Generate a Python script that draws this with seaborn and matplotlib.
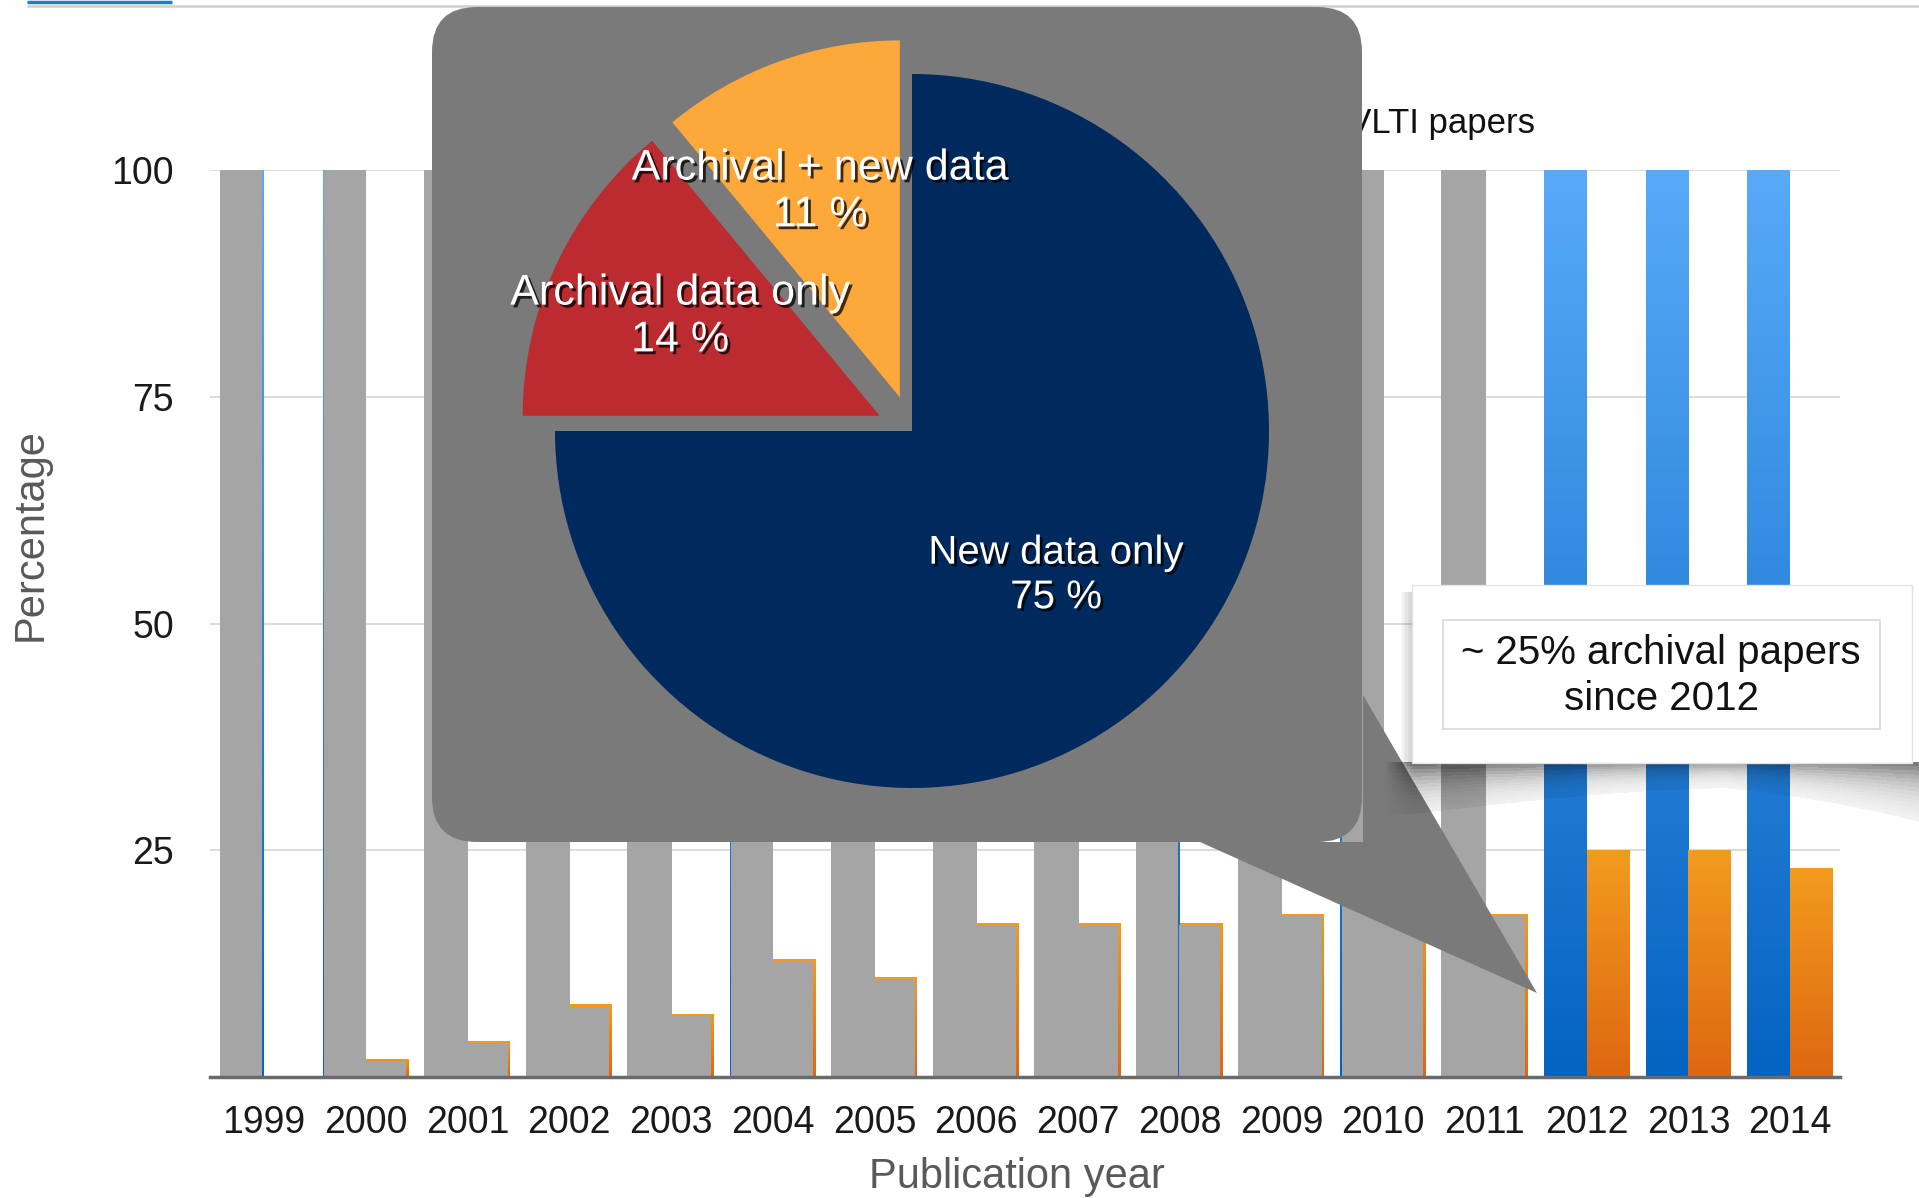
import numpy as np
import pandas as pd
import seaborn as sns
import matplotlib.pyplot as plt
import matplotlib.patheffects as pe
from matplotlib.patches import Rectangle, FancyBboxPatch, Polygon
from matplotlib.colors import LinearSegmentedColormap

# data
years = [str(y) for y in range(1999, 2015)]
all_papers = [100] * 16
archival = [0, 2, 4, 8, 7, 13, 11, 17, 17, 17, 18, 19, 18, 25, 25, 23]
first_shown = 2012          # earlier years are greyed out

pie_names = ['New data only', 'Archival data only', 'Archival + new data']
pie_values = [75, 14, 11]

note = '~ 25% archival papers\nsince 2012'
title = 'Archival data in VLTI papers'

W, H = 1919, 1198
sns.set_theme(style='white')
plt.rcParams['font.family'] = ['Liberation Sans', 'DejaVu Sans']

fig = plt.figure(figsize=(W / 100, H / 100), dpi=100)
ax = fig.add_axes([210 / W, (H - 1077) / H, 1630 / W, 907 / H])

df = pd.DataFrame({'year': years * 2,
                   'pct': all_papers + archival,
                   'series': ['all'] * 16 + ['archival'] * 16})
sns.barplot(data=df, x='year', y='pct', hue='series', palette=['#2f86e0', '#ea8a1a'],
            width=0.84, saturation=1, linewidth=0, legend=False, ax=ax)

# vertical gradients on the bars
grads = [('#0563c1', '#57aaf8'), ('#de6711', '#f29b1e')]
grad = np.linspace(0, 1, 256).reshape(-1, 1)
for cont, (bot, top) in zip(ax.containers, grads):
    cmap = LinearSegmentedColormap.from_list('g', [bot, top])
    for p in cont:
        x0, y0 = p.get_xy()
        w, h = p.get_width(), p.get_height()
        if h <= 0:
            continue
        im = ax.imshow(grad, extent=[x0, x0 + w, y0, y0 + h], origin='lower', cmap=cmap,
                       aspect='auto', zorder=1.5, interpolation='bilinear')
        im.set_clip_path(p)

# grey covers on the old years (thin coloured slivers left showing)
blue_edge = {'1999': 'right', '2000': 'left', '2004': 'left', '2008': 'right', '2010': 'left'}
gray = '#a5a5a5'
dx, dy, sl, ex = 0.025, 0.28, 0.015, 0.008
for i, yr in enumerate(years):
    if int(yr) >= first_shown:
        continue
    p = ax.containers[0][i]
    x0, w, h = p.get_x(), p.get_width(), p.get_height()
    side = blue_edge.get(yr)
    if side == 'right':
        ax.add_patch(Rectangle((x0 - ex, 0), w - sl + ex, h, fc=gray, ec='none', zorder=2))
    elif side == 'left':
        ax.add_patch(Rectangle((x0 + sl, 0), w - sl + ex, h, fc=gray, ec='none', zorder=2))
    else:
        ax.add_patch(Rectangle((x0 - ex, 0), w + 2 * ex, h, fc=gray, ec='none', zorder=2))
    q = ax.containers[1][i]
    if q.get_height() > 0:
        ax.add_patch(Rectangle((q.get_x() - ex, 0), q.get_width() - dx + ex, q.get_height() - dy,
                               fc=gray, ec='none', zorder=2))

ax.set_xlim(-0.53, 15.49)
ax.set_ylim(0, 100)
ax.set_yticks([25, 50, 75, 100])
ax.yaxis.grid(True, color='#d6d6d6', lw=1.2)
ax.set_axisbelow(True)
sns.despine(ax=ax, left=True)
ax.spines['bottom'].set_color('#6a6a6a')
ax.spines['bottom'].set_linewidth(2.5)
ax.tick_params(axis='both', length=0, labelsize=27, colors='#1a1a1a')
ax.tick_params(axis='y', pad=26)
ax.tick_params(axis='x', pad=20)
ax.set_xlabel('Publication year', fontsize=30, color='#595959')
ax.set_ylabel('Percentage', fontsize=30, color='#595959')
ax.xaxis.set_label_coords(0.495, -0.088)
ax.yaxis.set_label_coords(-0.098, 0.598)

# overlay in pixel coordinates: header lines, title, call-out, note box
ov = fig.add_axes([0, 0, 1, 1], zorder=5)
ov.axis('off')
ov.patch.set_alpha(0)

ov.plot([27, 172], [1.5, 1.5], color='#1b7fc4', lw=2.5, solid_capstyle='butt')
ov.plot([27, W], [5.5, 5.5], color='#cfcfcf', lw=1.8, solid_capstyle='butt')
ov.text(1535, 124, title, ha='right', va='center', fontsize=25, color='#111111', zorder=1)

callout = '#7a7a7a'
ov.add_patch(FancyBboxPatch((432, 7), 1362 - 432, 842 - 7,
                            boxstyle='round,pad=0,rounding_size=45', fc=callout, ec='none', zorder=2))
ov.add_patch(Polygon([(1200, 842), (1537, 993), (1363, 695), (1363, 842)],
                     closed=True, fc=callout, ec='none', zorder=2))

# soft curled shadow under the note box: thin vertical strips, each a stack of fading bands
sw, nb = 3.0, 14
for xl in np.arange(1386, W, sw):
    t = (xl + sw / 2 - 1412) / 500
    lft = min(max(1 - t * 1.6, 0), 1)
    rgt = max(t, 0)
    depth = 16 + 36 * lft + 42 * rgt ** 3
    strength = (0.34 + 0.3 * lft + 0.22 * rgt ** 2) * min((xl - 1384) / 28, 1)
    for k in range(nb):
        y_top = 762 + depth * k / nb
        a = strength * np.exp(-2.4 * (k + 0.5) / nb)
        ov.add_patch(Rectangle((xl, y_top), sw, depth / nb, fc='black', ec='none',
                               alpha=a, lw=0, antialiased=False, zorder=2.5))
for k in range(1, 6):
    ov.add_patch(Rectangle((1412 - 2.2 * k, 592), 2.2 * k, 171, fc='black', ec='none',
                           alpha=0.035, zorder=2.5))

ov.add_patch(Rectangle((1412, 585), 500, 178, fc='white', ec='#e4e4e4', lw=1, zorder=3))
ov.add_patch(Rectangle((1443, 620), 437, 109, fc='none', ec='#d8d8d8', lw=1.2, zorder=3.1))
ov.text(1661, 676, note, ha='center', va='center', fontsize=29, color='#111111',
        linespacing=1.25, zorder=4)
ov.set_xlim(0, W)
ov.set_ylim(H, 0)

# pie inside the call-out
cx, cy, R, lim = 912, 431, 357, 1.25
side_px = 2 * lim * R
pa = fig.add_axes([(cx - side_px / 2) / W, (H - cy - side_px / 2) / H, side_px / W, side_px / H],
                  zorder=6)
pa.pie(pie_values, startangle=90, counterclock=False, explode=[0, 0.1, 0.1],
       colors=['#002a5e', '#bb2b30', '#fca83b'], wedgeprops=dict(linewidth=0))
pa.set_xlim(-lim, lim)
pa.set_ylim(-lim, lim)
pa.axis('off')

label_px = [(1056, 575), (680, 317), (820, 192)]
label_size = [29, 31, 31]
shadow = [pe.SimplePatchShadow(offset=(2, -2), shadow_rgbFace='black', alpha=0.75), pe.Normal()]
for name, val, (px, py), fs in zip(pie_names, pie_values, label_px, label_size):
    pa.text((px - cx) / R, (cy - py) / R, f'{name}\n{val} %', ha='center', va='center',
            multialignment='center', fontsize=fs, color='white', linespacing=1.22,
            path_effects=shadow)

fig.savefig('out.png', dpi=100)
